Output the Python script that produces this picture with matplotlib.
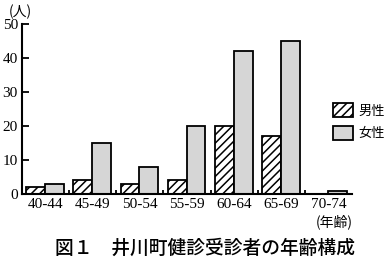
import matplotlib
matplotlib.use("Agg")
import matplotlib.pyplot as plt
import matplotlib.patches as mpatches
import numpy as np

plt.rcParams['font.family'] = ['Noto Sans CJK JP', 'DejaVu Sans']
plt.rcParams['hatch.linewidth'] = 1.1

# data
age_groups = ["40-44", "45-49", "50-54", "55-59", "60-64", "65-69", "70-74"]
male = [2, 4, 3, 4, 20, 17, 0]
female = [3, 15, 8, 20, 42, 45, 1]
y_ticks = [0, 10, 20, 30, 40, 50]

fig = plt.figure(figsize=(3.87, 2.66), dpi=100)
ax = fig.add_axes([22/387, 1-194/266, 330/387, 170/266])

x = np.arange(len(age_groups))
w = 0.40
ax.bar(x + 0.09, male, width=w, align='edge', facecolor='white', edgecolor='black',
       hatch='////', linewidth=1.3)
ax.bar(x + 0.49, female, width=w, align='edge', facecolor='#d6d6d6', edgecolor='black',
       linewidth=1.3)

ax.set_xlim(0, len(age_groups))
ax.set_ylim(0, 50)
for s in ['top', 'right']:
    ax.spines[s].set_visible(False)
ax.spines['left'].set_linewidth(1.5)
ax.spines['bottom'].set_linewidth(1.5)

serif = 'Liberation Serif'
ax.set_yticks(y_ticks)
ax.set_yticklabels([str(v) for v in y_ticks], family=serif, fontsize=11)
ax.tick_params(axis='y', direction='in', length=5, width=1.3, pad=3)
ax.set_xticks(x + 0.5)
ax.set_xticklabels(age_groups, family=serif, fontsize=11)
ax.tick_params(axis='x', which='major', length=0, pad=3)
ax.set_xticks(x[1:], minor=True)
ax.tick_params(axis='x', which='minor', direction='in', length=3, width=1.3)

handles = [mpatches.Patch(facecolor='white', edgecolor='black', hatch='////', linewidth=1.3),
           mpatches.Patch(facecolor='#d6d6d6', edgecolor='black', linewidth=1.3)]
fig.legend(handles, ['男性', '女性'], loc='upper left', bbox_to_anchor=(333/387, 1-103/266),
           frameon=False, fontsize=9.5, handlelength=1.5, handleheight=1.3,
           labelspacing=0.6, handletextpad=0.45, borderpad=0, borderaxespad=0)

fig.text(9/387, 1-12/266, '(人)', fontsize=10, va='center', ha='left')
fig.text(353/387, 1-222/266, '(年齢)', fontsize=10, va='center', ha='right')
fig.text(205/387, 1-248/266, '図１　井川町健診受診者の年齢構成', fontsize=13.5,
         fontweight='medium', va='center', ha='center')

fig.savefig('out.png', dpi=100)
